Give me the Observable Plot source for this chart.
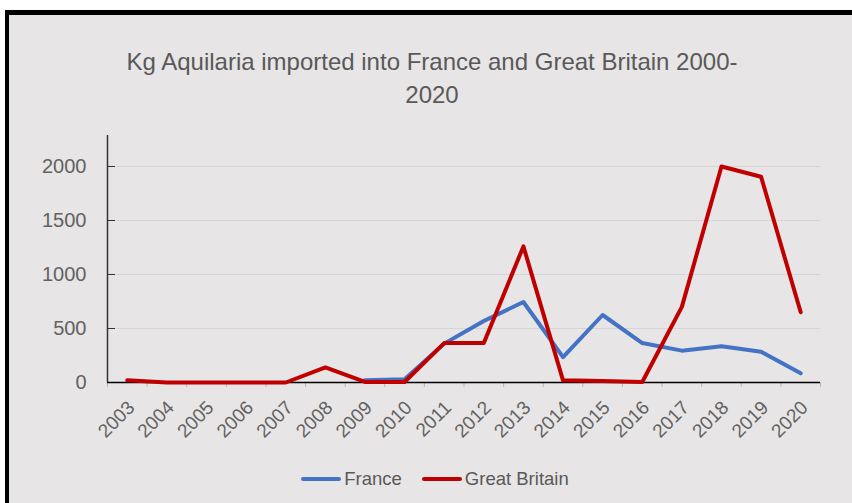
<!DOCTYPE html>
<html><head><meta charset="utf-8">
<script src="https://cdn.jsdelivr.net/npm/d3@7"></script>
<script src="https://cdn.jsdelivr.net/npm/@observablehq/plot@0.6"></script>
<style>
html,body{margin:0;padding:0;background:#fff;width:852px;height:503px;overflow:hidden;font-family:"Liberation Sans",Arial,sans-serif;}
#frame{position:absolute;left:5px;top:10px;width:870px;height:520px;background:#e7e5e5;border-top:5px solid #000;border-left:4px solid #000;box-sizing:border-box;}
#chart{position:absolute;left:0;top:0;}
#title{position:absolute;left:0;width:864px;top:45px;text-align:center;font-size:24px;line-height:33px;color:#595959;}
#legend{position:absolute;left:0;width:870px;top:468px;display:flex;justify-content:center;align-items:center;font-size:18.5px;color:#595959;gap:20px;}
.item{display:flex;align-items:center;}
.sw{display:inline-block;width:40px;height:4px;border-radius:2px;margin-right:3px;}
</style></head>
<body>
<div id="frame"></div>
<div id="chart"></div>
<div id="title">Kg Aquilaria imported into France and Great Britain 2000-<br>2020</div>
<div id="legend"></div>
<script>
const years = [2003,2004,2005,2006,2007,2008,2009,2010,2011,2012,2013,2014,2015,2016,2017,2018,2019,2020];
const france = [null,null,null,null,null,null,20,30,360,570,745,235,625,365,295,335,285,85];
const britain = [20,0,0,0,0,140,5,5,365,365,1260,20,15,5,700,2000,1905,650];
const yTicks = [0,500,1000,1500,2000];
const seriesNames = ["France","Great Britain"];
const seriesColors = ["#4472c4","#c00000"];

const halfYears = years.map(y => y - 0.5).concat([years[years.length-1] + 0.5]);
const rows = [];
years.forEach((y,i) => {
  rows.push({year:y, value:france[i], series:seriesNames[0]});
});
years.forEach((y,i) => {
  rows.push({year:y, value:britain[i], series:seriesNames[1]});
});
const font = '"Liberation Sans",Arial,sans-serif';

const chart = Plot.plot({
  width: 852,
  height: 450,
  marginLeft: 107,
  marginRight: 32,
  marginTop: 135,
  marginBottom: 68,
  x: {type: "linear", domain: [halfYears[0], halfYears[halfYears.length-1]]},
  y: {domain: [0, 2287]},
  color: {domain: seriesNames, range: seriesColors},
  style: {background: "transparent", fontFamily: font, fontSize: "19px", color: "#595959", overflow: "visible"},
  marks: [
    Plot.gridY(yTicks.filter(d => d > 0), {stroke: "#d6d4d4", strokeOpacity: 1, strokeWidth: 1}),
    Plot.axisX(halfYears, {tickSize: 5, tickFormat: () => "", stroke: "#b8b6b6", label: null}),
    Plot.axisX(years, {tickSize: 0, tickPadding: 22, tickRotate: -45, tickFormat: d => String(d), fill: "#626262", label: null, fontSize: 19, dx: 4}),
    Plot.axisY(yTicks, {tickSize: 8, dx: 8, tickFormat: () => "", stroke: "#333", label: null}),
    Plot.axisY(yTicks, {tickSize: 0, tickPadding: 21, tickFormat: d => String(d), fill: "#626262", label: null, fontSize: 20}),
    Plot.ruleY([0], {stroke: "#000", strokeWidth: 1.5}),
    Plot.ruleX([halfYears[0]], {stroke: "#333", strokeWidth: 1.5}),
    Plot.lineY(rows.filter(d => d.series === seriesNames[0]), {x: "year", y: "value", stroke: "series", strokeWidth: 4, strokeLinejoin: "round", strokeLinecap: "round"}),
    Plot.lineY(rows.filter(d => d.series === seriesNames[1]), {x: "year", y: "value", stroke: "series", strokeWidth: 4, strokeLinejoin: "round", strokeLinecap: "round"})
  ]
});
document.getElementById("chart").appendChild(chart);

const legend = document.getElementById("legend");
seriesNames.forEach((n,i) => {
  const it = document.createElement("div");
  it.className = "item";
  const sw = document.createElement("span");
  sw.className = "sw";
  sw.style.background = seriesColors[i];
  const tx = document.createElement("span");
  tx.textContent = n;
  it.appendChild(sw); it.appendChild(tx);
  legend.appendChild(it);
});
</script>
</body></html>
